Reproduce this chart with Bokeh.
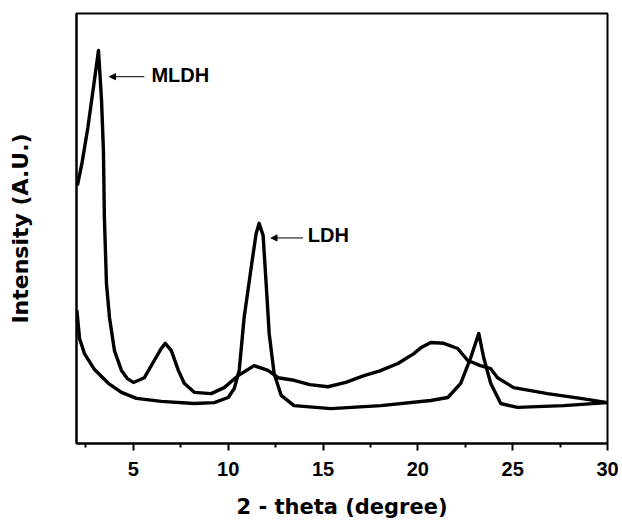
from bokeh.plotting import figure
from bokeh.models import Range1d, FixedTicker, Label, Arrow, NormalHead
from bokeh.embed import file_html
from bokeh.resources import INLINE

# 2-theta (degree) and intensity (arbitrary units)
mldh_theta = [2.05, 2.3, 2.6, 2.9, 3.1, 3.16, 3.32, 3.42, 3.47, 3.58, 3.74, 4.0, 4.37, 4.68,
              5.0, 5.58, 6.1, 6.47, 6.68, 7.0, 7.37, 7.68, 8.21, 9.1, 9.79, 10.53, 11.37,
              12.1, 12.63, 13.47, 14.3, 15.26, 16.2, 17.16, 18.0, 18.95, 19.79, 20.2, 20.68,
              21.37, 22.1, 22.63, 23.3, 23.84, 24.2, 25.05, 26.84, 28.58, 30.0]
mldh_int = [60.0, 65.5, 73.5, 83.0, 89.5, 91.4, 79.8, 68.1, 52.6, 37.2, 29.3, 21.6, 17.0, 15.1,
            14.2, 15.3, 19.3, 22.1, 23.3, 21.6, 17.0, 14.0, 11.9, 11.6, 13.0, 15.8, 18.1,
            17.0, 15.3, 14.7, 13.7, 13.2, 14.2, 15.8, 16.9, 18.6, 20.9, 22.4, 23.5,
            23.3, 22.1, 19.3, 18.1, 17.4, 15.3, 13.0, 11.6, 10.5, 9.5]

ldh_theta = [2.02, 2.16, 2.42, 2.95, 3.68, 4.37, 5.16, 6.47, 8.21, 9.26, 10.0, 10.32, 10.58,
             10.84, 11.21, 11.47, 11.63, 11.84, 12.0, 12.16, 12.42, 12.79, 13.47, 15.42,
             18.05, 20.68, 21.58, 22.26, 22.79, 23.21, 23.47, 23.84, 24.37, 25.26, 27.68, 30.0]
ldh_int = [31.0, 24.4, 20.9, 17.2, 14.0, 11.9, 10.5, 9.8, 9.3, 9.5, 10.7, 12.8, 17.0,
           29.3, 40.9, 48.8, 51.2, 48.4, 37.2, 25.6, 16.3, 11.2, 8.8, 8.1,
           8.8, 10.0, 10.7, 14.0, 20.0, 25.6, 20.0, 14.0, 9.3, 8.4, 8.8, 9.5]

x_ticks = [5, 10, 15, 20, 25, 30]
x_minor_ticks = [2.5, 7.5, 12.5, 17.5, 22.5, 27.5]

# annotation anchors: (text x, text y, arrow start x, arrow end x, arrow y)
mldh_note = (5.95, 85.8, 5.58, 3.74, 85.3)
ldh_note = (14.2, 48.4, 13.95, 12.26, 47.8)

FONT = "Liberation Sans"
TITLE_FONT = "DejaVu Sans"

p = figure(width=622, height=522, output_backend="svg", toolbar_location=None,
           x_range=Range1d(2, 30), y_range=Range1d(0, 100),
           min_border_left=76, min_border_right=15, min_border_top=13, min_border_bottom=79)
p.background_fill_color = "white"
p.border_fill_color = "white"
p.grid.visible = False
p.outline_line_color = "black"
p.outline_line_width = 2

p.line(mldh_theta, mldh_int, line_color="black", line_width=3.4, line_join="round")
p.line(ldh_theta, ldh_int, line_color="black", line_width=3.4, line_join="round")

for tx, ty, ax0, ax1, ay, txt in [(*mldh_note, "MLDH"), (*ldh_note, "LDH")]:
    p.add_layout(Label(x=tx, y=ty, text=txt, text_font=FONT, text_font_style="bold",
                       text_font_size="20px", text_baseline="middle", text_align="left",
                       text_color="black"))
    p.add_layout(Arrow(x_start=ax0, y_start=ay, x_end=ax1, y_end=ay, line_width=1,
                       line_color="black",
                       end=NormalHead(size=6, fill_color="black", line_color="black")))

xa = p.xaxis[0]
xa.ticker = FixedTicker(ticks=x_ticks, minor_ticks=x_minor_ticks)
xa.axis_label = "2 - theta (degree)"
xa.axis_label_text_font = TITLE_FONT
xa.axis_label_text_font_style = "bold"
xa.axis_label_text_font_size = "21px"
xa.axis_label_text_color = "black"
xa.axis_label_standoff = 16
xa.major_label_text_font = FONT
xa.major_label_text_font_style = "bold"
xa.major_label_text_font_size = "20px"
xa.major_label_text_color = "black"
xa.major_label_standoff = 11
xa.axis_line_width = 2
xa.major_tick_line_width = 2
xa.minor_tick_line_width = 2
xa.major_tick_out = 7
xa.major_tick_in = 0
xa.minor_tick_out = 4
xa.minor_tick_in = 0

ya = p.yaxis[0]
ya.ticker = FixedTicker(ticks=[])
ya.axis_label = "Intensity (A.U.)"
ya.axis_label_text_font = TITLE_FONT
ya.axis_label_text_font_style = "bold"
ya.axis_label_text_font_size = "22px"
ya.axis_label_text_color = "black"
ya.axis_label_standoff = 44
ya.axis_line_width = 2
ya.major_tick_out = 0
ya.minor_tick_out = 0

open("out.html", "w").write(file_html(p, INLINE))
